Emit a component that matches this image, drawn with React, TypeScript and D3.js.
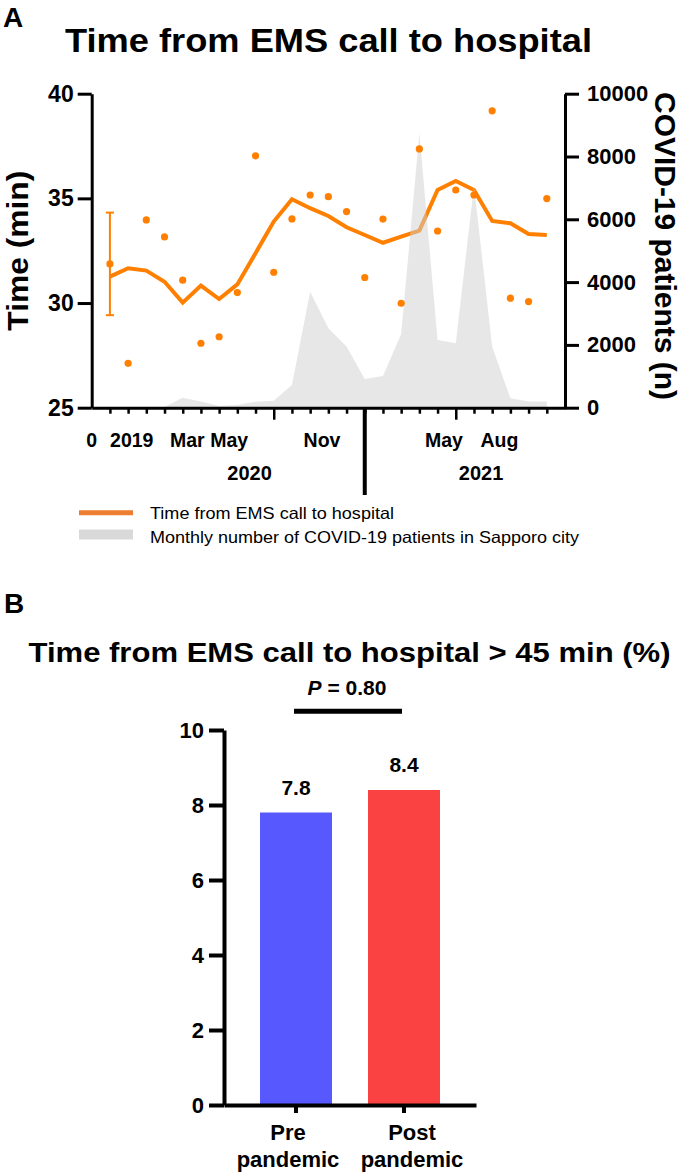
import { useRef, useEffect } from "react";
import * as d3 from "d3";

const width = 685;
const height = 1175;
const font = "'Liberation Sans', Arial, Helvetica, sans-serif";

// ---- panel A: monthly data (index 0 = 2019 average)
const periods = [
  "2019",
  "Jan 2020", "Feb 2020", "Mar 2020", "Apr 2020", "May 2020", "Jun 2020",
  "Jul 2020", "Aug 2020", "Sep 2020", "Oct 2020", "Nov 2020", "Dec 2020",
  "Jan 2021", "Feb 2021", "Mar 2021", "Apr 2021", "May 2021", "Jun 2021",
  "Jul 2021", "Aug 2021", "Sep 2021", "Oct 2021", "Nov 2021", "Dec 2021",
];
const timeMonthly = [
  31.87, 27.12, 33.97, 33.16, 31.09, 28.08, 28.39, 30.5, 37.03, 31.47, 34.02,
  35.16, 35.08, 34.37, 31.22, 34.01, 29.99, 37.36, 33.44, 35.4, 35.16, 39.18,
  30.23, 30.07, 34.99,
];
const timeTrend = [
  31.26, 31.66, 31.55, 31.02, 30.02, 30.83, 30.19, 30.89, 32.38, 33.89, 34.96,
  34.53, 34.16, 33.62, 33.25, 32.88, 33.17, 33.46, 35.4, 35.83, 35.4, 33.92,
  33.81, 33.3, 33.25,
];
const covidPatients = [
  0, 0, 0, 20, 318, 200, 55, 85, 190, 223, 723, 3694, 2528, 1950, 914, 1010,
  2347, 8738, 2156, 2051, 7060, 1943, 300, 200, 200,
];
const baselineSd = 2.45;

const leftTicks = [25, 30, 35, 40];
const rightTicks = [0, 2000, 4000, 6000, 8000, 10000];
const longTicks = [9, 19];
const yearDivider = 14;
const monthLabels = ["0", "2019", "Mar", "May", "Nov", "May", "Aug"];
const monthLabelAt = [-1, 1.2, 4.25, 6.55, 11.65, 18.35, 21.4];
const yearLabels = ["2020", "2021"];
const yearLabelAt = [7.67, 20.39];

// ---- panel B
const groups = ["Pre pandemic", "Post pandemic"];
const over45 = [7.8, 8.4];
const barColors = ["#5858ff", "#fa4242"];
const barTicks = [0, 2, 4, 6, 8, 10];
const pValue = 0.8;

export default function App() {
  const ref = useRef<SVGSVGElement | null>(null);

  useEffect(() => {
    const svg = d3
      .select(ref.current)
      .attr("width", width)
      .attr("height", height)
      .attr("viewBox", `0 0 ${width} ${height}`)
      .attr("font-family", font);

    svg.selectAll("*").remove();

    const bold = (sel: any, size: number) =>
      sel.attr("font-size", size).attr("font-weight", "bold").attr("fill", "#000");

    // ================= panel A =================
    const x = d3.scaleLinear().domain([-1, 25]).range([91.7, 565]);
    const yL = d3.scaleLinear().domain([25, 40]).range([407.7, 93.7]);
    const yR = d3.scaleLinear().domain([0, 10000]).range([407.7, 93.7]);

    bold(svg.append("text").attr("x", 3).attr("y", 27), 28).text("A");
    bold(svg.append("text").attr("x", 65).attr("y", 52), 33)
      .attr("textLength", 527)
      .attr("lengthAdjust", "spacingAndGlyphs")
      .text("Time from EMS call to hospital");

    // trend line (under the area)
    const line = d3
      .line<number>()
      .x((_, i) => x(i))
      .y((d) => yL(d));
    svg
      .append("path")
      .datum(timeTrend)
      .attr("fill", "none")
      .attr("stroke", "#ff8000")
      .attr("stroke-width", 4)
      .attr("stroke-linejoin", "miter")
      .attr("d", line);

    // covid patients area
    const area = d3
      .area<number>()
      .x((_, i) => x(i))
      .y0(yR(0))
      .y1((d) => yR(d));
    svg
      .append("path")
      .datum(covidPatients)
      .attr("fill", "#d0d0d0")
      .attr("fill-opacity", 0.5)
      .attr("d", area);

    // error bar on 2019 average
    const m0 = timeMonthly[0];
    const eb = svg.append("g").attr("stroke", "#ff8000").attr("stroke-width", 2);
    eb.append("line")
      .attr("x1", x(0)).attr("x2", x(0))
      .attr("y1", yL(m0 - baselineSd)).attr("y2", yL(m0 + baselineSd));
    [m0 - baselineSd, m0 + baselineSd].forEach((v) =>
      eb.append("line")
        .attr("x1", x(0) - 4).attr("x2", x(0) + 4)
        .attr("y1", yL(v)).attr("y2", yL(v))
    );

    svg
      .append("g")
      .selectAll("circle")
      .data(timeMonthly)
      .join("circle")
      .attr("cx", (_, i) => x(i))
      .attr("cy", (d) => yL(d))
      .attr("r", 3.6)
      .attr("fill", "#ff8000");

    // axes
    const styleAxis = (g: any, sw: number, size: number) => {
      g.attr("font-family", font).attr("font-size", size).attr("font-weight", "bold");
      g.select(".domain").attr("stroke-width", sw).attr("stroke", "#000");
      g.selectAll(".tick line").attr("stroke-width", sw).attr("stroke", "#000");
      g.selectAll(".tick text").attr("fill", "#000");
    };

    const gL = svg
      .append("g")
      .attr("transform", `translate(${x(-1)},0)`)
      .call(d3.axisLeft(yL).tickValues(leftTicks).tickSize(14).tickSizeOuter(0).tickPadding(4));
    styleAxis(gL, 3, 23);

    const gR = svg
      .append("g")
      .attr("transform", `translate(${x(25)},0)`)
      .call(
        d3.axisRight(yR).tickValues(rightTicks).tickSize(14).tickSizeOuter(0).tickPadding(8)
          .tickFormat(d3.format("d"))
      );
    styleAxis(gR, 3, 22);

    const gB = svg
      .append("g")
      .attr("transform", `translate(0,${yL(25)})`)
      .call(
        d3.axisBottom(x).tickValues(d3.range(0, periods.length)).tickSize(6).tickSizeOuter(0)
          .tickFormat(() => "")
      );
    styleAxis(gB, 3, 19);
    gB.selectAll(".tick line").attr("stroke-width", 2.5);
    gB.selectAll(".tick")
      .filter((d: any) => longTicks.includes(d))
      .select("line")
      .attr("y2", 12);

    svg
      .append("line")
      .attr("x1", x(yearDivider)).attr("x2", x(yearDivider))
      .attr("y1", yL(25)).attr("y2", 495)
      .attr("stroke", "#000")
      .attr("stroke-width", 4);

    monthLabels.forEach((t, i) =>
      bold(svg.append("text"), 19.5)
        .attr("x", x(monthLabelAt[i]))
        .attr("y", 447)
        .attr("text-anchor", "middle")
        .text(t)
    );
    yearLabels.forEach((t, i) =>
      bold(svg.append("text"), 20)
        .attr("x", x(yearLabelAt[i]))
        .attr("y", 479.5)
        .attr("text-anchor", "middle")
        .text(t)
    );

    bold(svg.append("text"), 30)
      .attr("transform", `translate(28,${(yL(25) + yL(40)) / 2}) rotate(-90)`)
      .attr("text-anchor", "middle")
      .attr("textLength", 160)
      .attr("lengthAdjust", "spacingAndGlyphs")
      .text("Time (min)");
    bold(svg.append("text"), 30)
      .attr("transform", `translate(655,246) rotate(90)`)
      .attr("text-anchor", "middle")
      .attr("textLength", 308)
      .attr("lengthAdjust", "spacingAndGlyphs")
      .text("COVID-19 patients (n)");

    // legend
    svg.append("line")
      .attr("x1", 79).attr("x2", 133).attr("y1", 512.7).attr("y2", 512.7)
      .attr("stroke", "#ed7d31").attr("stroke-width", 5);
    svg.append("rect")
      .attr("x", 79).attr("y", 529.5).attr("width", 54).attr("height", 10)
      .attr("fill", "#d9d9d9");
    svg.append("text")
      .attr("x", 150).attr("y", 518.5).attr("font-size", 16.5)
      .attr("textLength", 244).attr("lengthAdjust", "spacingAndGlyphs")
      .text("Time from EMS call to hospital");
    svg.append("text")
      .attr("x", 150).attr("y", 542.5).attr("font-size", 16.5)
      .attr("textLength", 429).attr("lengthAdjust", "spacingAndGlyphs")
      .text("Monthly number of COVID-19 patients in Sapporo city");

    // ================= panel B =================
    const xb = d3.scaleBand().domain(groups).range([224, 476]).paddingInner(1 / 3).paddingOuter(1 / 3);
    const yb = d3.scaleLinear().domain([0, 10]).range([1105, 730]);

    bold(svg.append("text").attr("x", 4).attr("y", 613), 28).text("B");
    bold(svg.append("text").attr("x", 28.5).attr("y", 661.7), 28)
      .attr("textLength", 642)
      .attr("lengthAdjust", "spacingAndGlyphs")
      .text("Time from EMS call to hospital > 45 min (%)");

    svg
      .append("g")
      .selectAll("rect")
      .data(over45)
      .join("rect")
      .attr("x", (_, i) => xb(groups[i])!)
      .attr("width", xb.bandwidth())
      .attr("y", (d) => yb(d))
      .attr("height", (d) => yb(0) - yb(d))
      .attr("fill", (_, i) => barColors[i]);

    over45.forEach((v, i) =>
      bold(svg.append("text"), 21)
        .attr("x", xb(groups[i])! + xb.bandwidth() / 2)
        .attr("y", yb(v) - 18)
        .attr("text-anchor", "middle")
        .text(v.toFixed(1))
    );

    const gyb = svg
      .append("g")
      .attr("transform", `translate(${xb.range()[0]},0)`)
      .call(d3.axisLeft(yb).tickValues(barTicks).tickSize(15).tickSizeOuter(0).tickPadding(5));
    styleAxis(gyb, 4, 22);

    const gxb = svg
      .append("g")
      .attr("transform", `translate(0,${yb(0)})`)
      .call(d3.axisBottom(xb).tickSize(8).tickSizeOuter(0).tickFormat(() => ""));
    styleAxis(gxb, 4, 22);

    // category labels sit slightly outward of their ticks
    groups.forEach((g, i) => {
      const cx = xb(g)! + xb.bandwidth() / 2 + (i === 0 ? -8 : 8);
      const t = bold(svg.append("text"), 22).attr("text-anchor", "middle");
      g.split(" ").forEach((w, j) =>
        t.append("tspan").attr("x", cx).attr("y", 1140 + j * 27).text(w)
      );
    });

    // significance bracket
    const c0 = xb(groups[0])! + xb.bandwidth() / 2;
    const c1 = xb(groups[1])! + xb.bandwidth() / 2;
    svg.append("line")
      .attr("x1", c0 - 2).attr("x2", c1 - 2)
      .attr("y1", yb(10.5)).attr("y2", yb(10.5))
      .attr("stroke", "#000").attr("stroke-width", 5);
    const pt = bold(svg.append("text"), 21)
      .attr("x", (c0 + c1) / 2 - 3)
      .attr("y", 695)
      .attr("text-anchor", "middle");
    pt.append("tspan").attr("font-style", "italic").text("P");
    pt.append("tspan").text(` = ${pValue.toFixed(2)}`);
  }, []);

  return (
    <svg
      ref={ref}
      style={{ position: "absolute", left: 0, top: 0, display: "block", background: "#fff" }}
    />
  );
}
